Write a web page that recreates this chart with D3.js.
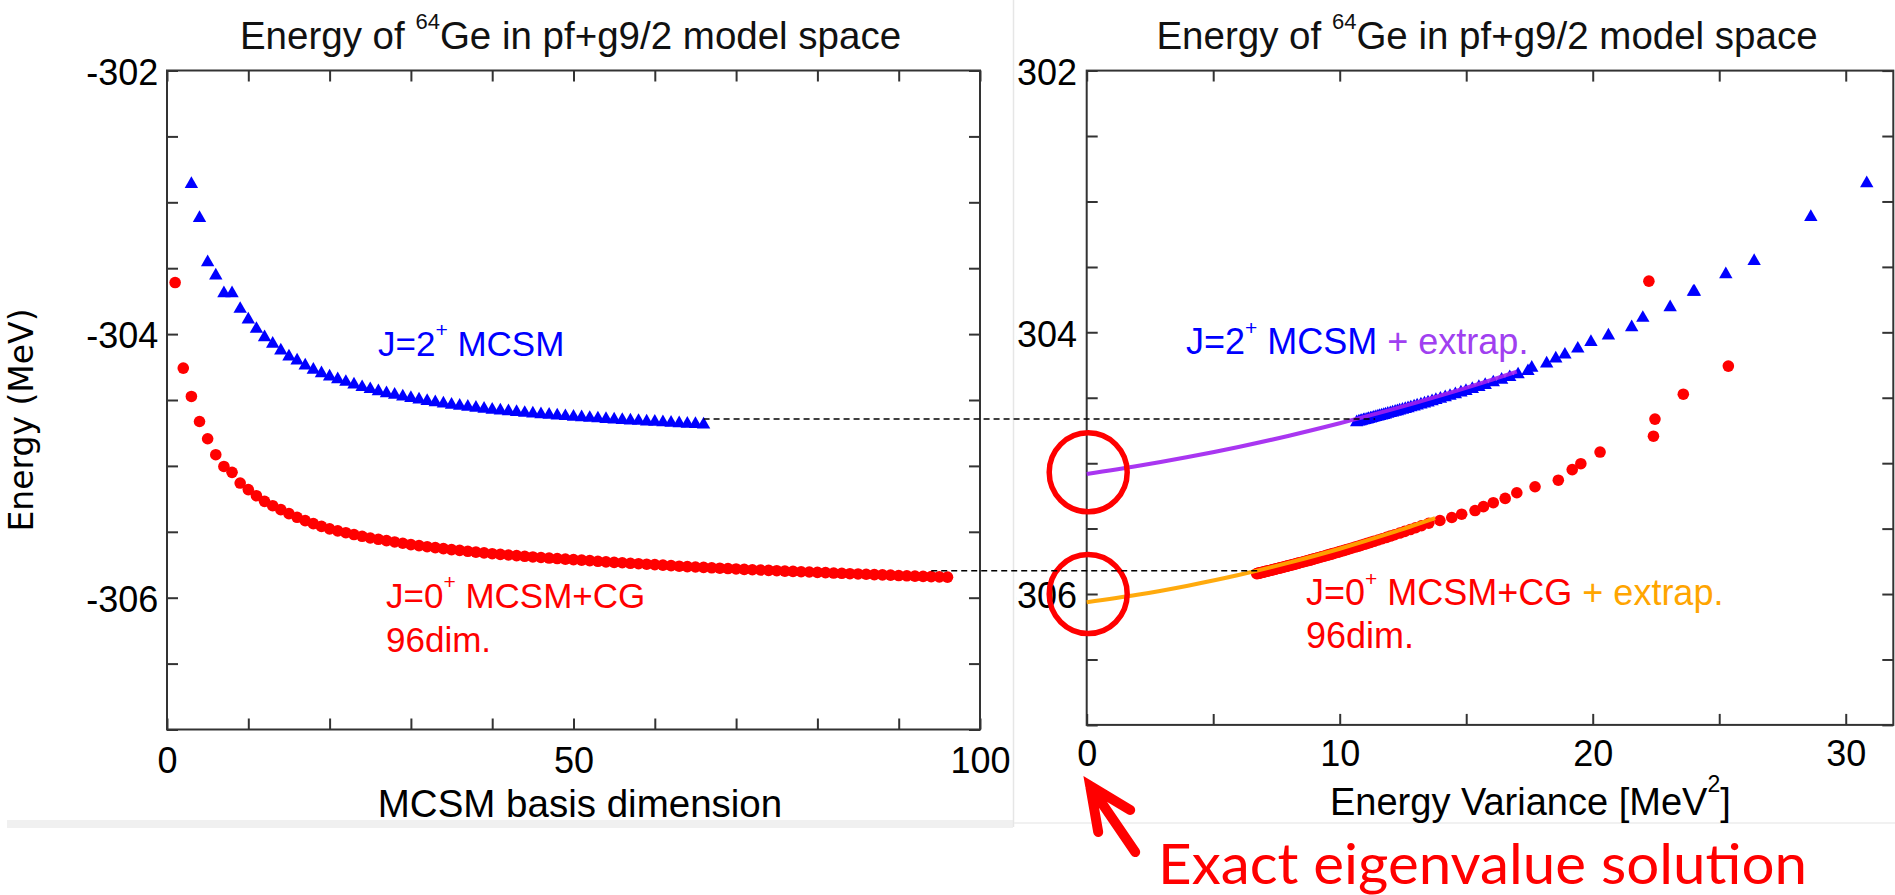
<!DOCTYPE html>
<html><head><meta charset="utf-8">
<script src="https://cdn.jsdelivr.net/npm/d3@7"></script>
<style>
body{margin:0;background:#fff;}
svg{display:block;font-family:"Liberation Sans",Arial,Helvetica,sans-serif;}
</style>
</head><body>
<svg id="c" width="1895" height="895"></svg>
<script>
// ---------------- data ----------------
// J=2+ MCSM (blue triangles): basis dimension, energy (MeV), energy variance (MeV^2)
const dimJ2 = [3,4,5,6,7,8,9,10,11,12,13,14,15,16,17,18,19,20,21,22,23,24,25,26,27,28,29,30,31,32,33,34,35,36,37,38,39,40,41,42,43,44,45,46,47,48,49,50,51,52,53,54,55,56,57,58,59,60,61,62,63,64,65,66];
const energyJ2 = [
-302.855,-303.113,-303.450,-303.550,-303.685,-303.685,-303.803,-303.884,-303.955,-304.018,
-304.068,-304.119,-304.165,-304.195,-304.233,-304.265,-304.291,-304.316,-304.337,-304.357,
-304.377,-304.397,-304.412,-304.428,-304.443,-304.455,-304.468,-304.480,-304.491,-304.502,
-304.512,-304.521,-304.530,-304.538,-304.546,-304.554,-304.561,-304.568,-304.574,-304.580,
-304.586,-304.592,-304.597,-304.602,-304.607,-304.612,-304.617,-304.622,-304.626,-304.630,
-304.634,-304.638,-304.642,-304.646,-304.650,-304.653,-304.657,-304.660,-304.664,-304.667,
-304.671,-304.674,-304.677,-304.681];
const varianceJ2 = [
30.83,28.62,26.38,25.26,24.02,23.98,23.06,21.98,21.54,20.62,
19.93,19.41,18.90,18.54,18.18,17.59,17.44,17.05,16.72,16.40,
16.07,15.75,15.50,15.24,14.99,14.79,14.57,14.36,14.17,13.98,
13.80,13.65,13.49,13.35,13.21,13.06,12.94,12.81,12.70,12.59,
12.48,12.37,12.28,12.19,12.09,12.00,11.90,11.81,11.74,11.66,
11.58,11.51,11.43,11.35,11.28,11.22,11.14,11.08,11.00,10.94,
10.87,10.81,10.75,10.67];

// J=0+ MCSM+CG (red circles)
const dimJ0 = [1,2,3,4,5,6,7,8,9,10,11,12,13,14,15,16,17,18,19,20,21,22,23,24,25,26,27,28,29,30,31,32,33,34,35,36,37,38,39,40,41,42,43,44,45,46,47,48,49,50,51,52,53,54,55,56,57,58,59,60,61,62,63,64,65,66,67,68,69,70,71,72,73,74,75,76,77,78,79,80,81,82,83,84,85,86,87,88,89,90,91,92,93,94,95,96];
const energyJ0 = [
-303.609,-304.258,-304.473,-304.663,-304.794,-304.915,-305.004,-305.049,-305.130,-305.180,
-305.226,-305.269,-305.302,-305.332,-305.362,-305.390,-305.415,-305.438,-305.459,-305.478,
-305.493,-305.507,-305.521,-305.534,-305.547,-305.557,-305.567,-305.577,-305.587,-305.597,
-305.605,-305.613,-305.620,-305.628,-305.635,-305.641,-305.648,-305.654,-305.660,-305.666,
-305.671,-305.676,-305.681,-305.686,-305.691,-305.695,-305.699,-305.703,-305.707,-305.711,
-305.715,-305.719,-305.724,-305.728,-305.732,-305.735,-305.739,-305.742,-305.746,-305.749,
-305.753,-305.757,-305.761,-305.764,-305.767,-305.770,-305.773,-305.776,-305.779,-305.782,
-305.785,-305.788,-305.790,-305.793,-305.795,-305.798,-305.800,-305.803,-305.805,-305.808,
-305.810,-305.813,-305.815,-305.818,-305.820,-305.822,-305.825,-305.827,-305.829,-305.832,
-305.834,-305.836,-305.838,-305.840,-305.842,-305.844];
const varianceJ0 = [
22.22,25.36,23.58,22.46,22.40,20.29,19.53,19.19,18.64,17.72,
17.00,16.54,16.07,15.68,15.35,14.82,14.43,13.96,13.52,13.23,
13.00,12.79,12.57,12.37,12.17,12.00,11.85,11.68,11.52,11.35,
11.22,11.09,10.97,10.84,10.72,10.61,10.49,10.39,10.28,10.18,
10.09,10.00,9.91,9.82,9.73,9.66,9.59,9.51,9.44,9.37,
9.29,9.22,9.13,9.05,8.97,8.92,8.85,8.79,8.71,8.65,
8.58,8.50,8.42,8.36,8.30,8.25,8.19,8.13,8.07,8.01,
7.95,7.89,7.85,7.79,7.75,7.69,7.64,7.59,7.54,7.48,
7.44,7.38,7.34,7.28,7.23,7.19,7.13,7.09,7.04,6.98,
6.94,6.89,6.85,6.80,6.77,6.72];

// extrapolation curves (variance, energy)
const extrapVarJ2 = [0,2,4,6,8,10,12,14,16,17];
const extrapEnJ2  = [-305.083,-305.022,-304.953,-304.876,-304.790,-304.695,-304.593,-304.482,-304.363,-304.300];
const extrapVarJ0 = [0,2,4,6,8,10,12,13.77];
const extrapEnJ0  = [-306.063,-306.006,-305.936,-305.855,-305.760,-305.654,-305.535,-305.420];

// dashed guide lines: energy level, start (basis dim, left panel), end (variance, right panel)
const guideEnergy = [-304.662,-305.822];
const guideFromDim = [66,94];
const guideToVar = [11.4,6.85];

// circled extrapolated values at zero variance
const circleEnergy = [-305.07,-306.0];

// ticks and labels
const leftXTicks = [0,10,20,30,40,50,60,70,80,90,100];
const leftXLabels = [0,50,100];
const rightXTicks = [0,5,10,15,20,25,30];
const rightXLabels = [0,10,20,30];
const yTicks = [-302,-302.5,-303,-303.5,-304,-304.5,-305,-305.5,-306,-306.5,-307];
const yLabels = [-302,-304,-306];

// ---------------- drawing ----------------
const svg = d3.select("#c");
svg.append("rect").attr("width",1895).attr("height",895).attr("fill","#fff");

// faint image-boundary decorations
svg.append("rect").attr("x",7).attr("y",820).attr("width",1006).attr("height",8).attr("fill","#f0f0f0");
svg.append("line").attr("x1",1013.5).attr("x2",1013.5).attr("y1",0).attr("y2",827).attr("stroke","#e6e6e6").attr("stroke-width",1.5);
svg.append("line").attr("x1",1014).attr("x2",1895).attr("y1",823).attr("y2",823).attr("stroke","#ececec").attr("stroke-width",1.5);

const xL = d3.scaleLinear().domain([0,100]).range([167,980]);
const yL = d3.scaleLinear().domain([-302,-307]).range([70.5,729.5]);
const xR = d3.scaleLinear().domain([0,31.88]).range([1086.7,1893.3]);
const yR = d3.scaleLinear().domain([-302,-307]).range([70.6,724.9]);

const BLUE = "#0000ff", RED = "#ff0000", PURPLE = "#a020f0", ORANGE = "#ffa500";

svg.append("defs").append("clipPath").attr("id","rclip")
  .append("rect").attr("x",1016.5).attr("y",0).attr("width",879).attr("height",895);

function styleAxis(g, fs){
  g.select(".domain").remove();
  g.attr("font-family",null);
  g.selectAll(".tick line").attr("stroke","#333").attr("stroke-width",2);
  g.selectAll(".tick text").attr("font-size",fs).attr("fill","#000");
}

function drawFrame(g, x, y, xt, xl, padX, padY){
  const [xa,xb] = x.range(), [ya,yb] = y.range();
  const fx = d => xl.includes(d) ? String(d) : "";
  const fy = d => yLabels.includes(d) ? String(d).replace("\u2212","-") : "";
  g.append("g").attr("transform",`translate(0,${yb})`)
    .call(d3.axisBottom(x).tickValues(xt).tickSize(-11).tickPadding(padX).tickFormat(fx))
    .call(s=>styleAxis(s,36));
  g.append("g").attr("transform",`translate(0,${ya})`)
    .call(d3.axisTop(x).tickValues(xt).tickSize(-11).tickFormat(""))
    .call(s=>styleAxis(s,36));
  g.append("g").attr("transform",`translate(${xa},0)`)
    .call(d3.axisLeft(y).tickValues(yTicks).tickSize(-11).tickPadding(padY).tickFormat(fy))
    .call(s=>styleAxis(s,36))
    .call(s=>s.selectAll(".tick text").attr("dy","0.38em"));
  g.append("g").attr("transform",`translate(${xb},0)`)
    .call(d3.axisRight(y).tickValues(yTicks).tickSize(-11).tickFormat(""))
    .call(s=>styleAxis(s,36));
  g.append("rect").attr("x",xa).attr("y",ya).attr("width",xb-xa).attr("height",yb-ya)
    .attr("fill","none").attr("stroke","#333").attr("stroke-width",2);
}

function title(g, cx){
  const t = g.append("text").attr("x",cx).attr("y",49).attr("text-anchor","middle")
    .attr("font-size",38.5).attr("fill","#111");
  t.append("tspan").text("Energy of ");
  t.append("tspan").attr("font-size",22).attr("dy",-20).text("64");
  t.append("tspan").attr("dy",20).text("Ge in pf+g9/2 model space");
}

const triPath = "M0,-7 L6.7,4.7 L-6.7,4.7 Z";

// ---------- left panel ----------
const gl = svg.append("g");
title(gl, 570.5);
drawFrame(gl, xL, yL, leftXTicks, leftXLabels, 18, 8.7);

gl.append("g").selectAll("circle").data(dimJ0).join("circle")
  .attr("cx",(d,i)=>xL(d)).attr("cy",(d,i)=>yL(energyJ0[i])).attr("r",5.8).attr("fill",RED);
gl.append("g").selectAll("path").data(dimJ2).join("path")
  .attr("d",triPath).attr("fill",BLUE)
  .attr("transform",(d,i)=>`translate(${xL(d)},${yL(energyJ2[i])})`);

// labels
{
  const t = gl.append("text").attr("x",378).attr("y",356).attr("font-size",35).attr("fill",BLUE);
  t.append("tspan").text("J=2");
  t.append("tspan").attr("font-size",21).attr("dy",-19).text("+");
  t.append("tspan").attr("dy",19).text(" MCSM");
  const t2 = gl.append("text").attr("x",386).attr("y",608).attr("font-size",35).attr("fill",RED);
  t2.append("tspan").text("J=0");
  t2.append("tspan").attr("font-size",21).attr("dy",-19).text("+");
  t2.append("tspan").attr("dy",19).text(" MCSM+CG");
  gl.append("text").attr("x",386).attr("y",651.5).attr("font-size",35).attr("fill",RED).text("96dim.");
}
gl.append("text").attr("x",580).attr("y",817).attr("text-anchor","middle").attr("font-size",38.5)
  .attr("fill","#000").text("MCSM basis dimension");
gl.append("text").attr("transform","translate(33,420) rotate(-90)").attr("text-anchor","middle")
  .style("font-family","'DejaVu Sans',Verdana,sans-serif").attr("font-size",33).attr("fill","#000")
  .text("Energy (MeV)");

// ---------- right panel ----------
const gr = svg.append("g").attr("clip-path","url(#rclip)");
title(gr, 1487);
drawFrame(gr, xR, yR, rightXTicks, rightXLabels, 15.5, 9.7);

gr.append("g").selectAll("circle").data(varianceJ0).join("circle")
  .attr("cx",d=>xR(d)).attr("cy",(d,i)=>yR(energyJ0[i])).attr("r",5.8).attr("fill",RED);
gr.append("g").selectAll("path").data(varianceJ2).join("path")
  .attr("d",triPath).attr("fill",BLUE)
  .attr("transform",(d,i)=>`translate(${xR(d)},${yR(energyJ2[i])})`);

const line = d3.line().x(d=>xR(d[0])).y(d=>yR(d[1])).curve(d3.curveMonotoneX);
gr.append("path").attr("d",line(extrapVarJ2.map((v,i)=>[v,extrapEnJ2[i]])))
  .attr("fill","none").attr("stroke",PURPLE).attr("stroke-width",4).attr("stroke-opacity",0.9);
gr.append("path").attr("d",line(extrapVarJ0.map((v,i)=>[v,extrapEnJ0[i]])))
  .attr("fill","none").attr("stroke",ORANGE).attr("stroke-width",4).attr("stroke-opacity",0.95);

{
  const t = gr.append("text").attr("x",1186).attr("y",354).attr("font-size",36).attr("fill",BLUE);
  t.append("tspan").text("J=2");
  t.append("tspan").attr("font-size",21).attr("dy",-19).text("+");
  t.append("tspan").attr("dy",19).text(" MCSM");
  t.append("tspan").attr("fill","#a040f0").text(" + extrap.");
  const t2 = gr.append("text").attr("x",1306).attr("y",605).attr("font-size",36).attr("fill",RED);
  t2.append("tspan").text("J=0");
  t2.append("tspan").attr("font-size",21).attr("dy",-19).text("+");
  t2.append("tspan").attr("dy",19).text(" MCSM+CG");
  t2.append("tspan").attr("fill",ORANGE).text(" + extrap.");
  gr.append("text").attr("x",1306).attr("y",648).attr("font-size",36).attr("fill",RED).text("96dim.");
}
{
  const t = gr.append("text").attr("x",1330).attr("y",815).attr("font-size",38).attr("fill","#000");
  t.append("tspan").text("Energy Variance [MeV");
  t.append("tspan").attr("font-size",23).attr("dy",-23).text("2");
  t.append("tspan").attr("dy",23).text("]");
}

// circles marking the zero-variance values
gr.append("g").selectAll("ellipse").data(circleEnergy).join("ellipse")
  .attr("cx",xR(0)+1.5).attr("cy",d=>yR(d)).attr("rx",39).attr("ry",39.5)
  .attr("fill","none").attr("stroke",RED).attr("stroke-width",5.5);

// dashed guide lines across both panels
svg.append("g").selectAll("line").data(guideEnergy).join("line")
  .attr("x1",(d,i)=>xL(guideFromDim[i])).attr("x2",(d,i)=>xR(guideToVar[i]))
  .attr("y1",d=>yR(d)).attr("y2",d=>yR(d))
  .attr("stroke","#000").attr("stroke-width",1.6).attr("stroke-dasharray","6,4");

// annotation arrow and text
{
  const tx = xR(0) + 3.5, ty = 786;
  svg.append("path")
    .attr("d",`M${tx+8},${ty+46} L${tx},${ty} L${tx+40},${ty+24} M${tx},${ty} L${tx+45},${ty+66}`)
    .attr("fill","none").attr("stroke",RED).attr("stroke-width",10)
    .attr("stroke-linecap","round").attr("stroke-linejoin","miter");
  svg.append("text").attr("x",1158).attr("y",884)
    .style("font-family","Lato,Carlito,'Open Sans',sans-serif")
    .attr("font-size",56).attr("fill",RED)
    .attr("textLength",649).attr("lengthAdjust","spacingAndGlyphs")
    .text("Exact eigenvalue solution");
}
</script>
</body></html>
